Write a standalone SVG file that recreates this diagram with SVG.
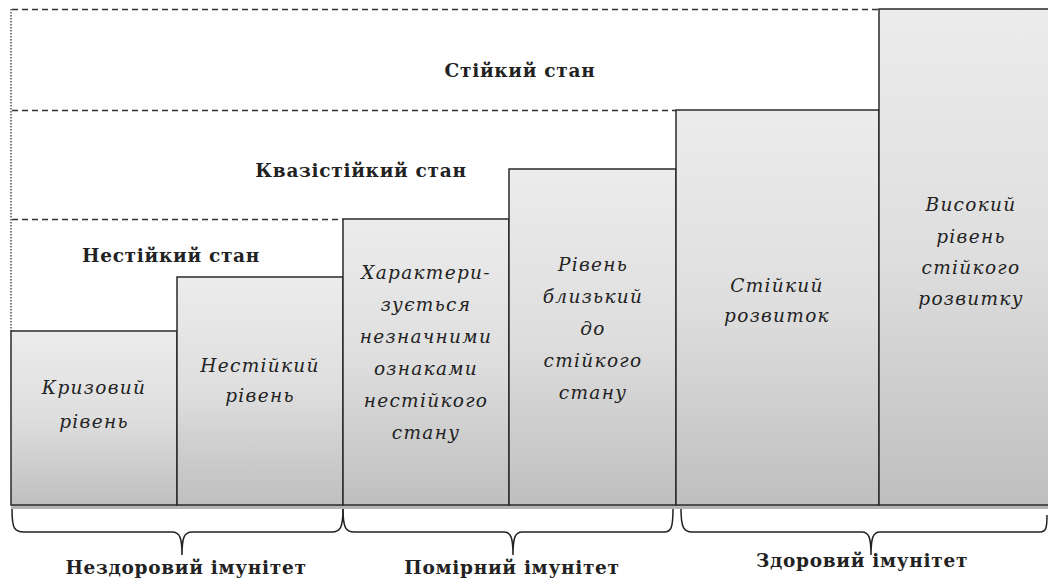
<svg xmlns="http://www.w3.org/2000/svg" width="1048" height="578" viewBox="0 0 1048 578">
<defs>
<linearGradient id="g" x1="0" y1="0" x2="0" y2="1">
<stop offset="0" stop-color="#ececec"/>
<stop offset="0.5" stop-color="#dedede"/>
<stop offset="1" stop-color="#bfbfbf"/>
</linearGradient>
<style>
.bar{fill:url(#g);stroke:#2a2a2a;stroke-width:1.5}
.dash{stroke:#333;stroke-width:1.3;stroke-dasharray:6,4;fill:none}
.b{font-family:"DejaVu Serif","Liberation Serif",serif;font-weight:bold;font-size:18.5px;fill:#222;text-anchor:middle;letter-spacing:0.7px}
.i{font-family:"DejaVu Serif","Liberation Serif",serif;font-style:italic;font-size:18.5px;fill:#222;text-anchor:middle;letter-spacing:1.3px}
.brace{fill:none;stroke:#222;stroke-width:1.5}
</style>
</defs>
<rect width="1048" height="578" fill="#fff"/>
<g id="guides">
<line x1="11" y1="9" x2="11" y2="331" stroke="#333" stroke-width="1.3" stroke-dasharray="1.5,1.5"/>
<line class="dash" x1="12" y1="9.5" x2="879" y2="9.5"/>
<line class="dash" x1="12" y1="110.5" x2="676" y2="110.5"/>
<line class="dash" x1="12" y1="219.5" x2="343" y2="219.5"/>
</g>
<g id="labels-states">
<text class="b" x="520" y="77">Стійкий стан</text>
<text class="b" x="361" y="177">Квазістійкий стан</text>
<text class="b" x="171" y="262">Нестійкий стан</text>
</g>
<rect x="11" y="505" width="1037" height="4" fill="#b5b5b5"/>
<g id="bar1"><rect class="bar" x="11" y="331" width="166" height="174"/>
<text class="i" x="94" y="394">Кризовий</text><text class="i" x="94" y="428">рівень</text></g>
<g id="bar2"><rect class="bar" x="177" y="277" width="166" height="228"/>
<text class="i" x="260" y="372">Нестійкий</text><text class="i" x="260" y="402">рівень</text></g>
<g id="bar3"><rect class="bar" x="343" y="219" width="166" height="286"/>
<text class="i" x="426" y="279">Характери-</text><text class="i" x="426" y="311">зується</text><text class="i" x="426" y="343">незначними</text><text class="i" x="426" y="375">ознаками</text><text class="i" x="426" y="407">нестійкого</text><text class="i" x="426" y="439">стану</text></g>
<g id="bar4"><rect class="bar" x="509" y="169" width="167" height="336"/>
<text class="i" x="593" y="271">Рівень</text><text class="i" x="593" y="303">близький</text><text class="i" x="593" y="335">до</text><text class="i" x="593" y="367">стійкого</text><text class="i" x="593" y="399">стану</text></g>
<g id="bar5"><rect class="bar" x="676" y="110" width="203" height="395"/>
<text class="i" x="777" y="292">Стійкий</text><text class="i" x="777" y="322">розвиток</text></g>
<g id="bar6"><rect class="bar" x="879" y="9" width="170" height="496"/>
<text class="i" x="971" y="211">Високий</text><text class="i" x="971" y="243">рівень</text><text class="i" x="971" y="274">стійкого</text><text class="i" x="971" y="305">розвитку</text></g>
<g id="connectors">
<path class="brace" d="M12,509 C12,528 14,532 24,532 L172,532 C180,532 182,538 182,555 C182,538 184,532 192,532 L332,532 C340,532 343,528 343,509"/>
<path class="brace" d="M343,509 C343,528 346,532 354,532 L504,532 C511,532 513,538 513,555 C513,538 515,532 522,532 L664,532 C671,532 673,528 673,509"/>
<path class="brace" d="M681,509 C681,528 684,532 692,532 L862,532 C869,532 871,538 871,555 C871,538 873,532 880,532 L1040,532 C1046,532 1047,528 1047,515"/>
</g>
<g id="labels-immunity">
<text class="b" x="186" y="574">Нездоровий імунітет</text>
<text class="b" x="512" y="574">Помірний імунітет</text>
<text class="b" x="862" y="567">Здоровий імунітет</text>
</g>
</svg>
